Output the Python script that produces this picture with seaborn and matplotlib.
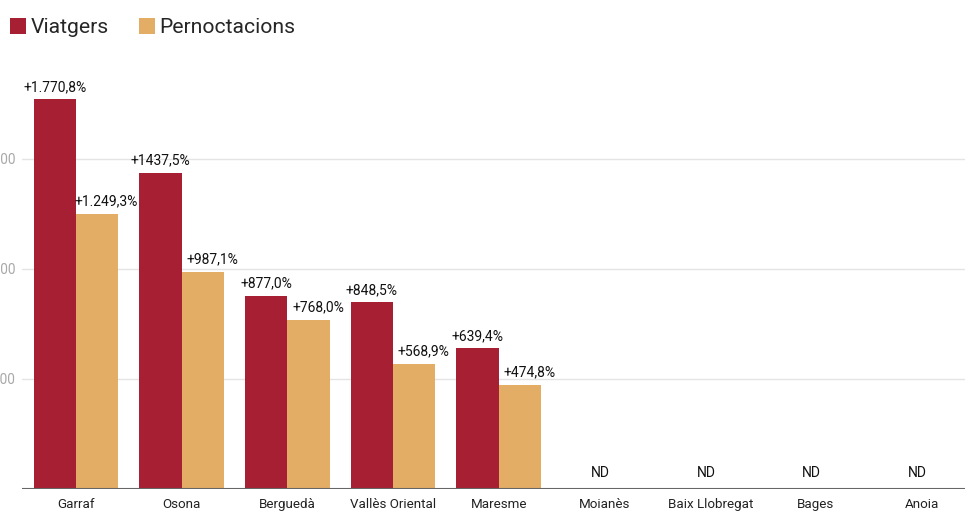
import pandas as pd
import matplotlib.pyplot as plt
import seaborn as sns
from matplotlib.patches import Patch

# Dades
comarques = ["Garraf", "Osona", "Berguedà", "Vallès Oriental", "Maresme",
             "Moianès", "Baix Llobregat", "Bages", "Anoia"]
viatgers = [1770.8, 1437.5, 877.0, 848.5, 639.4, 0, 0, 0, 0]
pernoctacions = [1249.3, 987.1, 768.0, 568.9, 474.8, 0, 0, 0, 0]
etiq_viatgers = ["+1.770,8%", "+1437,5%", "+877,0%", "+848,5%", "+639,4%", "", "", "", ""]
etiq_pernoct = ["+1.249,3%", "+987,1%", "+768,0%", "+568,9%", "+474,8%", "", "", "", ""]
nd = [False, False, False, False, False, True, True, True, True]

series = ["Viatgers", "Pernoctacions"]
colors = ["#A61F32", "#E3AD65"]

df = pd.DataFrame({
    "comarca": comarques * 2,
    "serie": ["Viatgers"] * len(comarques) + ["Pernoctacions"] * len(comarques),
    "valor": viatgers + pernoctacions,
})

sns.set_style("white")
plt.rcParams["font.family"] = ["Roboto", "DejaVu Sans"]

fig = plt.figure(figsize=(9.65, 5.12), dpi=100)
ax = fig.add_axes([22 / 965, 1 - 489 / 512, 1 - 22 / 965, 429 / 512])

sns.barplot(data=df, x="comarca", y="valor", hue="serie", hue_order=series,
            palette=colors, width=0.8, saturation=1, linewidth=0, ax=ax, legend=False)

ax.set_xlim(-0.51, 8.41)
ax.set_ylim(0, 1950)
ax.set_yticks([500, 1000, 1500])
ax.set_yticklabels(["500", "1000", "1500"])
ax.yaxis.grid(True, color="#e4e4e4", lw=1)
ax.set_axisbelow(True)
ax.axhline(0, color="#666666", lw=1.5, zorder=5)
for s in ax.spines.values():
    s.set_visible(False)
ax.tick_params(axis="y", length=0, pad=4.2, labelsize=9.8, labelcolor="#a8a8a8")
ax.tick_params(axis="x", length=0, pad=6.5, labelsize=9.6, labelcolor="#222222")
ax.set_xlabel("")
ax.set_ylabel("")

# Etiquetes de valor
for cont, etiq, dx in zip(ax.containers, [etiq_viatgers, etiq_pernoct], [0.0, 0.09]):
    for bar, txt in zip(cont, etiq):
        if txt:
            ax.text(bar.get_x() + bar.get_width() / 2 + dx, bar.get_height() + 25, txt,
                    ha="center", va="bottom", fontsize=10, color="#111111")

for i, buit in enumerate(nd):
    if buit:
        ax.text(i - 0.04, 42, "ND", ha="center", va="bottom", fontsize=10, color="#111111")

handles = [Patch(facecolor=c, edgecolor="none") for c in colors]
fig.legend(handles, series, loc="upper left", bbox_to_anchor=(10 / 965, 1 - 18 / 512), ncol=2,
           frameon=False, fontsize=15.2, handlelength=0.76, handleheight=0.76,
           handletextpad=0.2, columnspacing=1.45, borderpad=0, borderaxespad=0)

plt.savefig("out.png", dpi=100)
